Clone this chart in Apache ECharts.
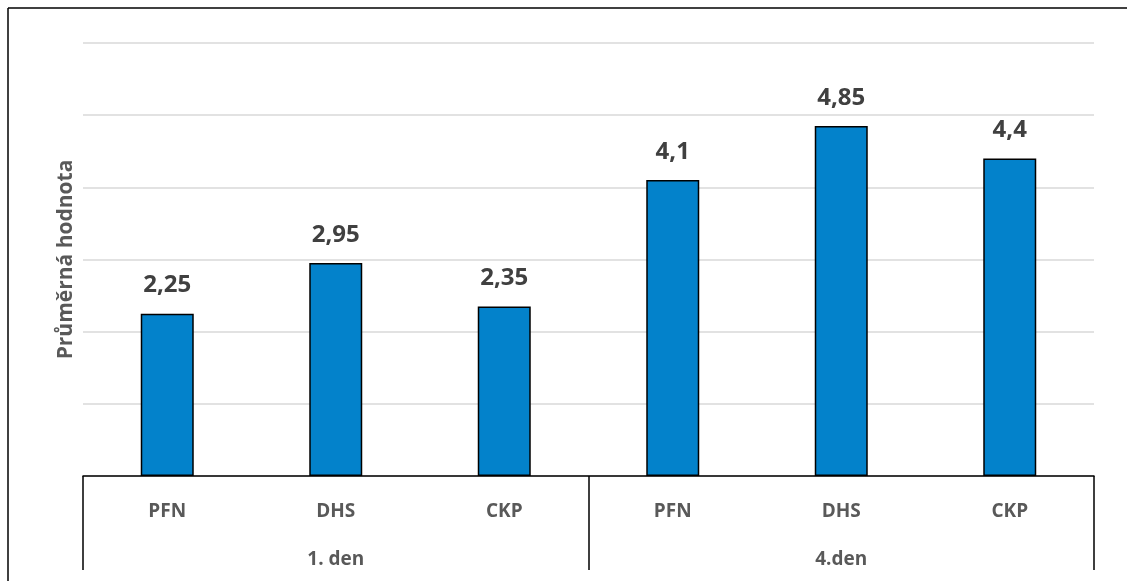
<!DOCTYPE html>
<html>
<head>
<meta charset="utf-8">
<script src="https://cdn.jsdelivr.net/npm/echarts@6/dist/echarts.min.js"></script>
<style>
  html, body { margin: 0; padding: 0; background: #fff; }
  #chart { width: 1127px; height: 581px; }
</style>
</head>
<body>
<div id="chart"></div>
<script>
// Measurement groups (days) and the methods measured within each day
const days = ['1. den', '4.den'];
const methods = ['PFN', 'DHS', 'CKP'];
// Mean value per method, day by day
const values = [2.25, 2.95, 2.35, 4.1, 4.85, 4.4];
const yAxisTitle = 'Průměrná hodnota';

const categories = [];
days.forEach(() => methods.forEach(m => categories.push(m)));

const FONT = '"Open Sans", "DejaVu Sans", sans-serif';
const chart = echarts.init(document.getElementById('chart'), null, { renderer: 'canvas' });

chart.setOption({
  animation: false,
  backgroundColor: '#ffffff',
  grid: { left: 83, right: 33, top: 43, bottom: 105, containLabel: false },
  graphic: [
    // outer frame of the chart area
    { type: 'line', shape: { x1: 8, y1: 8, x2: 1127, y2: 8 }, style: { stroke: '#000', lineWidth: 1.5 } },
    { type: 'line', shape: { x1: 8, y1: 8, x2: 8, y2: 581 }, style: { stroke: '#000', lineWidth: 1.5 } }
  ],
  xAxis: [
    {
      type: 'category',
      data: categories,
      position: 'bottom',
      axisLine: { show: true, lineStyle: { color: '#000', width: 1.5 } },
      axisTick: { show: false },
      axisLabel: { color: '#595959', fontFamily: FONT, fontWeight: 'bold', fontSize: 19, margin: 26 }
    },
    {
      type: 'category',
      data: days,
      position: 'bottom',
      axisLine: { show: false },
      axisTick: { show: true, length: 94, lineStyle: { color: '#000', width: 1.5 } },
      axisLabel: { color: '#595959', fontFamily: FONT, fontWeight: 'bold', fontSize: 19, margin: 74 }
    }
  ],
  yAxis: {
    type: 'value',
    min: 0,
    max: 6,
    interval: 1,
    name: yAxisTitle,
    nameLocation: 'middle',
    nameGap: 6,
    nameTextStyle: { color: '#595959', fontFamily: FONT, fontWeight: 'bold', fontSize: 21 },
    axisLine: { show: false },
    axisTick: { show: false },
    axisLabel: { show: false },
    splitLine: { lineStyle: { color: '#d9d9d9', width: 1.5 } }
  },
  series: [{
    type: 'bar',
    xAxisIndex: 0,
    data: values,
    barWidth: 53,
    itemStyle: { color: '#0382cb', borderColor: '#000', borderWidth: 1.5 },
    label: {
      show: true,
      position: 'top',
      distance: 16,
      color: '#404040',
      fontFamily: FONT,
      fontWeight: 'bold',
      fontSize: 24,
      formatter: p => String(p.value).replace('.', ',')
    }
  }]
});
</script>
</body>
</html>
